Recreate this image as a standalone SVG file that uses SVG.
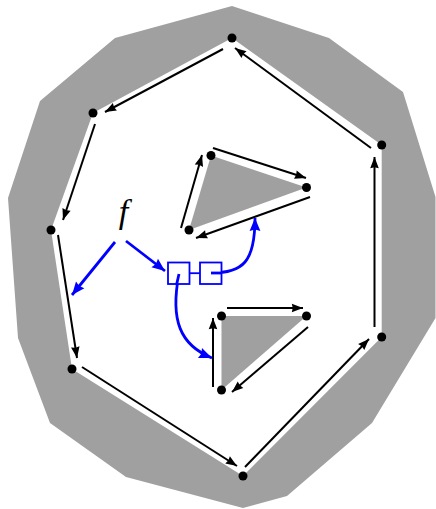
<svg xmlns="http://www.w3.org/2000/svg" width="436" height="509" viewBox="0 0 436 509">
<style>
.region{fill:#a0a0a0;stroke:none}
.dot{fill:#000}
.edge{stroke:#000;stroke-width:2;fill:none;marker-end:url(#ah)}
.blue{stroke:#0000ff;stroke-width:2.8;fill:none;marker-end:url(#bh)}
.box{stroke:#0000ff;stroke-width:1.8;fill:#fff}
.lbl{font-family:"Liberation Serif","DejaVu Serif",serif;font-style:italic;font-size:34px;fill:#000}
</style>
<defs>
<marker id="ah" markerUnits="userSpaceOnUse" markerWidth="14" markerHeight="12" viewBox="-13 -6 15 12" refX="0" refY="0" orient="auto" overflow="visible"><path d="M0,0 L-12,-4.6 L-11,0 L-12,4.6 Z" fill="#000"/></marker>
<marker id="bh" markerUnits="userSpaceOnUse" markerWidth="16" markerHeight="14" viewBox="-14 -7 16 14" refX="0" refY="0" orient="auto" overflow="visible"><path d="M0,0 L-13,-5.4 L-11.5,0 L-13,5.4 Z" fill="#0000ff"/></marker>
</defs>
<rect width="436" height="509" fill="#fff"/>
<g id="outer-region">
<path class="region" fill-rule="evenodd" d="M232,6 L329,38 L403,92 L435.5,197 L435.5,318 L372,423 L287,496 L243,508 L126,477 L50,423 L18,338 L8,198 L40,101 L115,38 Z M232,38 L93,113 L51,230 L72,369 L243,476 L381.7,337 L381.7,145 Z"/>
</g>
<g id="triangle-1"><path class="region" d="M211,155.5 L306.5,187.5 L189,230 Z"/></g>
<g id="triangle-2"><path class="region" d="M221.5,316 L306.5,316 L221.5,390 Z"/></g>
<g id="connectors">
<line class="edge" x1="223" y1="49" x2="105" y2="112"/>
<line class="edge" x1="95" y1="124" x2="63" y2="220"/>
<line class="edge" x1="58" y1="235" x2="77" y2="358"/>
<line class="edge" x1="82" y1="367" x2="237" y2="466"/>
<line class="edge" x1="245" y1="467" x2="369" y2="339"/>
<line class="edge" x1="374.5" y1="327" x2="374.5" y2="157"/>
<line class="edge" x1="371" y1="148" x2="235" y2="48"/>
<line class="edge" x1="213" y1="148" x2="306" y2="178"/>
<line class="edge" x1="310" y1="197" x2="196" y2="238"/>
<line class="edge" x1="181" y1="228" x2="202" y2="155"/>
<line class="edge" x1="227" y1="308" x2="303" y2="308"/>
<line class="edge" x1="308" y1="327" x2="232" y2="392"/>
<line class="edge" x1="213" y1="387" x2="213" y2="318"/>
<line class="blue" x1="115" y1="242" x2="72" y2="295"/>
<line class="blue" x1="126" y1="241" x2="165" y2="271"/>
<path class="blue" d="M211,273 C243,273 255,262 255,218"/>
<path class="blue" d="M179,274 C170,320 180,345 212,358"/>
</g>
<g id="pair">
<line x1="189.5" y1="273.2" x2="200" y2="273.2" stroke="#0000ff" stroke-width="1.8"/>
<rect class="box" x="168" y="262.5" width="21.5" height="21.5"/>
<rect class="box" x="200" y="262.5" width="21.5" height="21.5"/>
<path d="M211,273 L222,273" stroke="#0000ff" stroke-width="2.8" fill="none"/>
<path d="M179,274 L176.5,285" stroke="#0000ff" stroke-width="2.8" fill="none"/>
</g>
<g id="label-f"><text class="lbl" x="123.5" y="223" text-anchor="middle">f</text></g>
<g id="v-a"><circle class="dot" cx="232" cy="38" r="4.5"/></g>
<g id="v-b"><circle class="dot" cx="93" cy="113" r="4.5"/></g>
<g id="v-c"><circle class="dot" cx="51" cy="230" r="4.5"/></g>
<g id="v-d"><circle class="dot" cx="72" cy="369" r="4.5"/></g>
<g id="v-e"><circle class="dot" cx="243" cy="476" r="4.5"/></g>
<g id="v-f"><circle class="dot" cx="381.7" cy="337" r="4.5"/></g>
<g id="v-g"><circle class="dot" cx="381.7" cy="145" r="4.5"/></g>
<g id="t1-a"><circle class="dot" cx="211" cy="155.5" r="4.5"/></g>
<g id="t1-b"><circle class="dot" cx="306.5" cy="187.5" r="4.5"/></g>
<g id="t1-c"><circle class="dot" cx="189" cy="230" r="4.5"/></g>
<g id="t2-a"><circle class="dot" cx="221.5" cy="316" r="4.5"/></g>
<g id="t2-b"><circle class="dot" cx="306.5" cy="316" r="4.5"/></g>
<g id="t2-c"><circle class="dot" cx="221.5" cy="390" r="4.5"/></g>
</svg>
